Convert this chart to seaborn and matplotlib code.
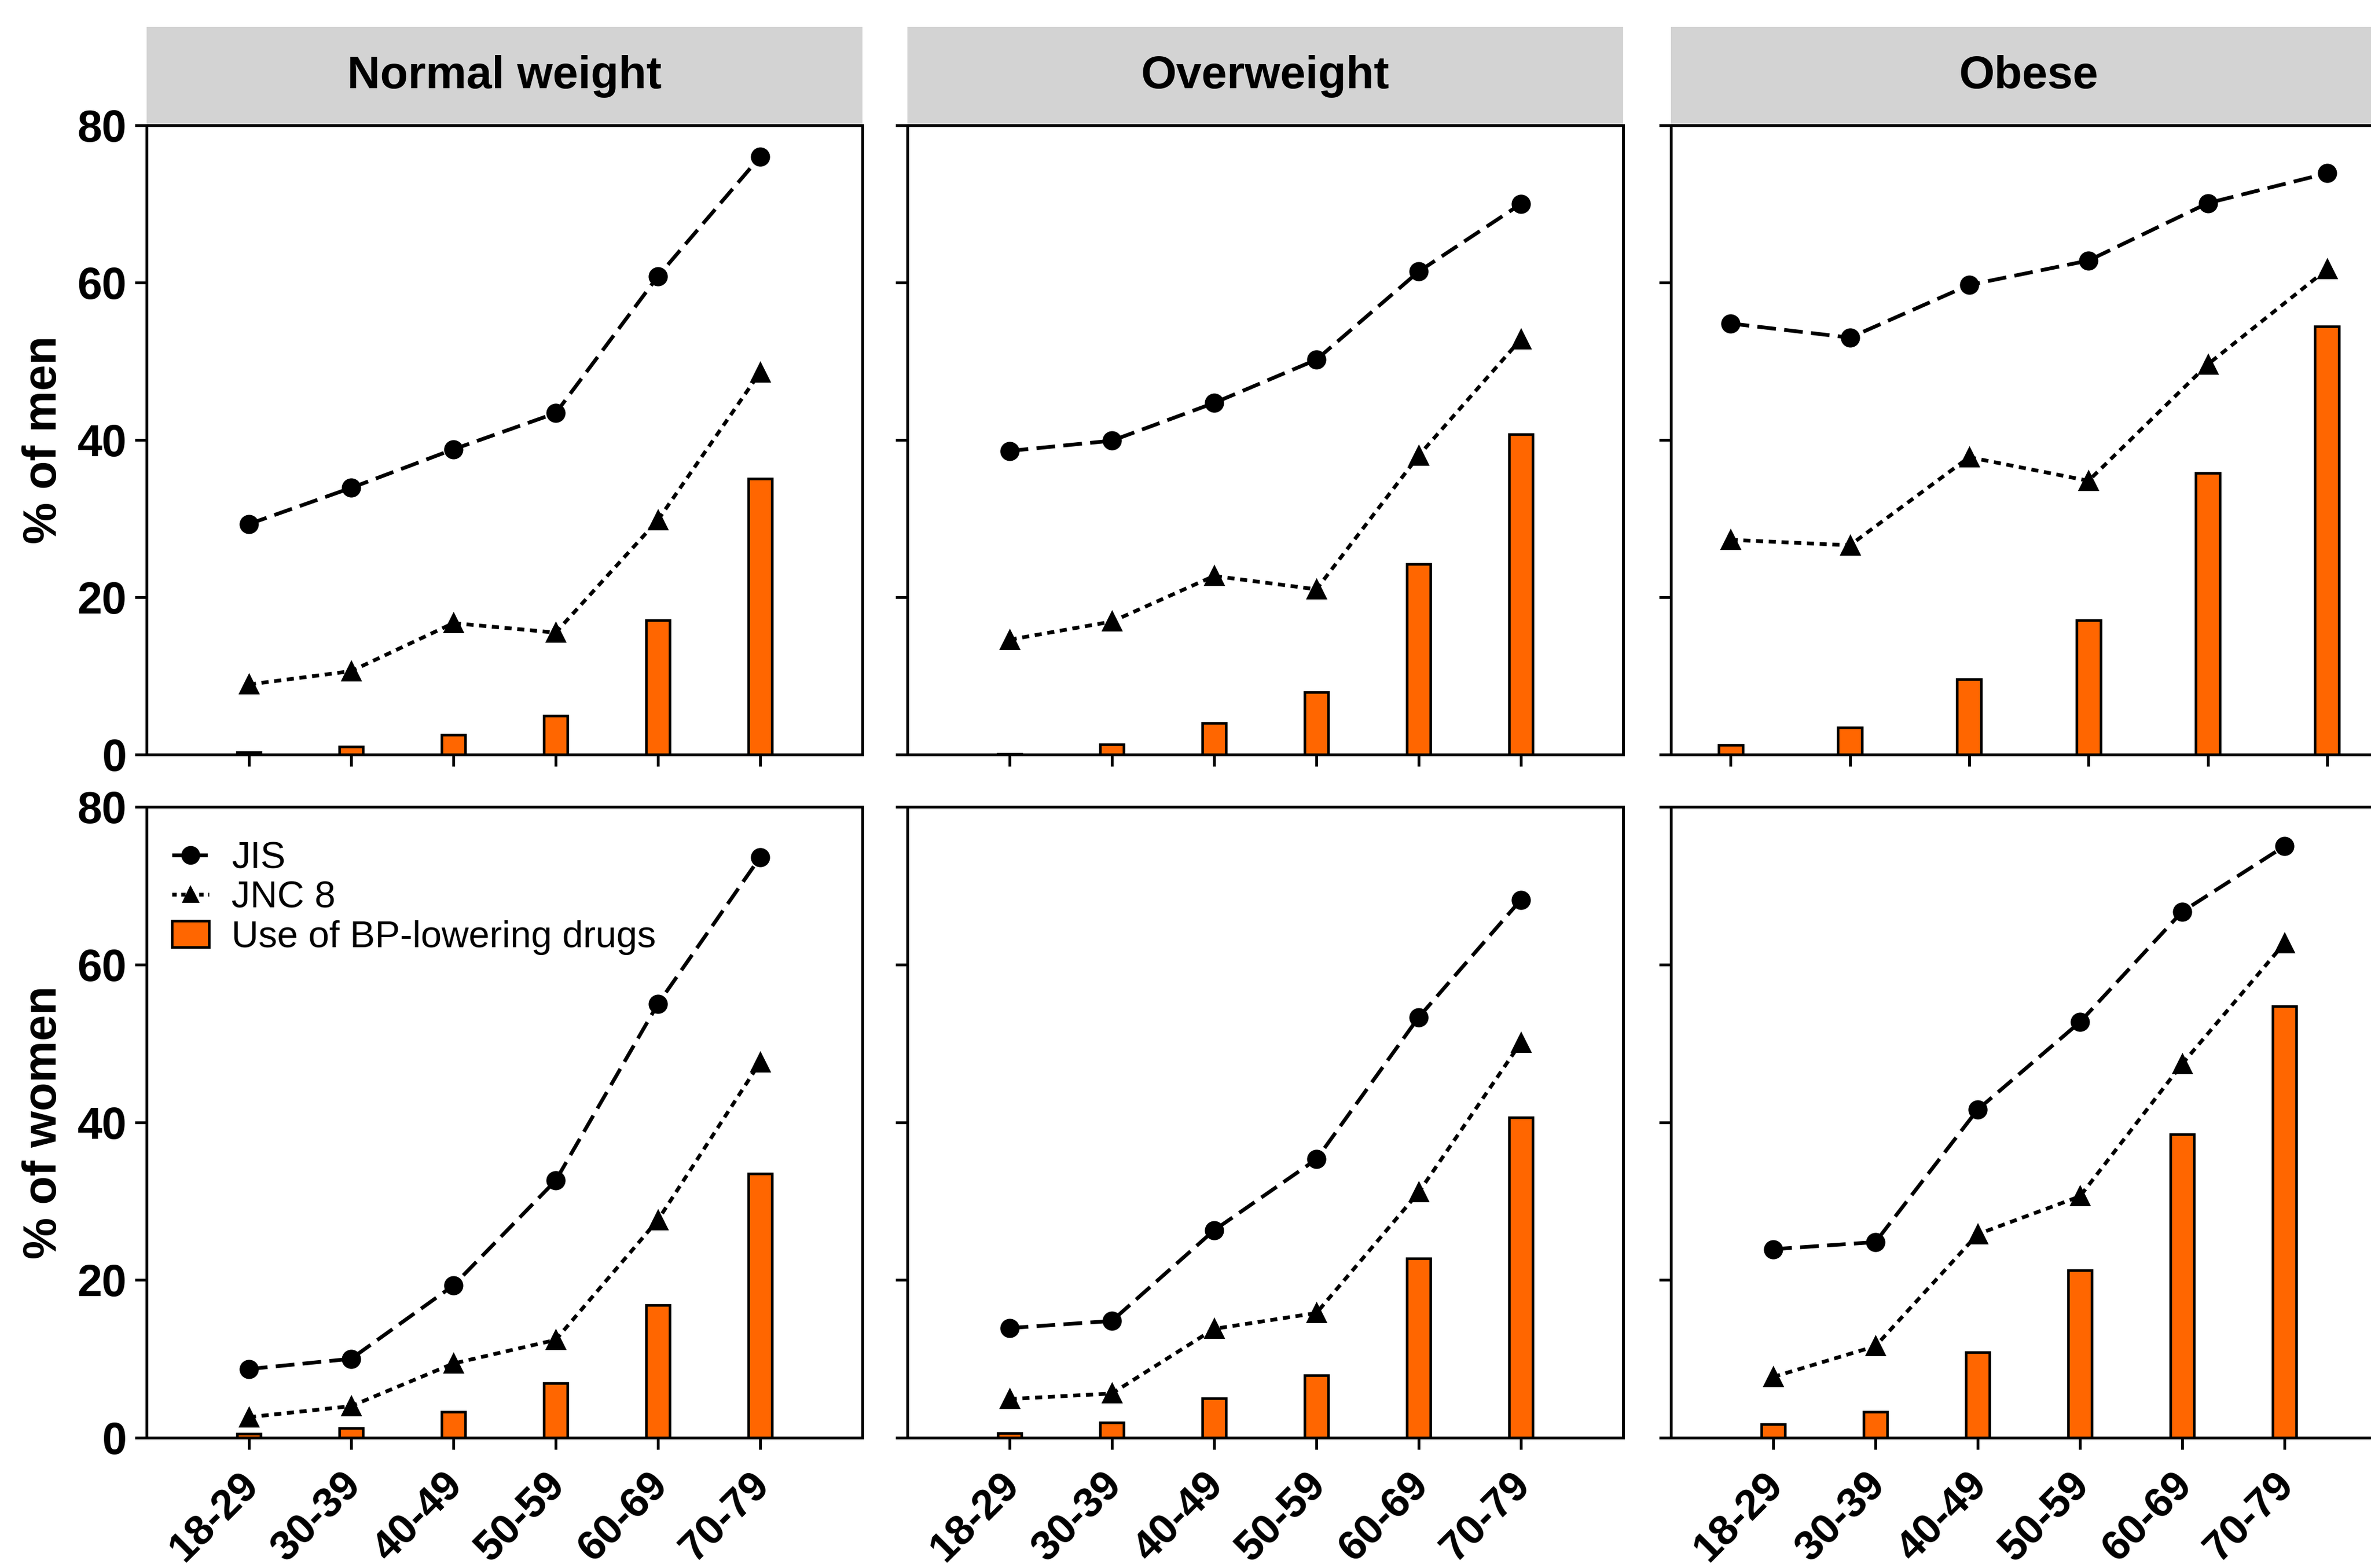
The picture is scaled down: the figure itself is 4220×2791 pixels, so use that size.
import matplotlib
matplotlib.use("Agg")
import matplotlib.pyplot as plt
import matplotlib.transforms as mtransforms
import numpy as np
import pandas as pd
import seaborn as sns
from matplotlib.patches import Rectangle, Patch
from matplotlib.lines import Line2D

# ---------------- data ----------------
ages = ["18-29", "30-39", "40-49", "50-59", "60-69", "70-79"]
groups = ["Normal weight", "Overweight", "Obese"]
sexes = ["men", "women"]
criteria = ["JIS", "JNC 8"]

men_normal_jis = [29.3, 33.9, 38.8, 43.4, 60.8, 76.0]
men_normal_jnc8 = [8.9, 10.6, 16.7, 15.5, 29.8, 48.6]
men_normal_drugs = [0.3, 1.0, 2.5, 4.9, 17.1, 35.1]

men_over_jis = [38.6, 39.9, 44.7, 50.2, 61.4, 70.0]
men_over_jnc8 = [14.6, 16.9, 22.7, 21.0, 38.0, 52.8]
men_over_drugs = [0.1, 1.3, 4.0, 7.9, 24.2, 40.7]

men_obese_jis = [54.8, 53.0, 59.7, 62.8, 70.1, 73.9]
men_obese_jnc8 = [27.3, 26.6, 37.8, 34.8, 49.6, 61.7]
men_obese_drugs = [1.2, 3.4, 9.6, 17.1, 35.8, 54.4]

women_normal_jis = [8.7, 10.0, 19.3, 32.6, 55.0, 73.6]
women_normal_jnc8 = [2.6, 4.0, 9.4, 12.4, 27.6, 47.6]
women_normal_drugs = [0.5, 1.2, 3.3, 6.9, 16.8, 33.5]

women_over_jis = [13.9, 14.8, 26.3, 35.3, 53.3, 68.2]
women_over_jnc8 = [4.9, 5.6, 13.8, 15.8, 31.1, 50.1]
women_over_drugs = [0.6, 1.9, 5.0, 7.9, 22.7, 40.6]

women_obese_jis = [23.9, 24.8, 41.6, 52.7, 66.7, 75.0]
women_obese_jnc8 = [7.7, 11.6, 25.8, 30.6, 47.4, 62.7]
women_obese_drugs = [1.7, 3.3, 10.8, 21.2, 38.5, 54.7]

ylabels = ["% of men", "% of women"]
yticks = [0, 20, 40, 60, 80]
legend_labels = ["JIS", "JNC 8", "Use of BP-lowering drugs"]

series = {
    ("men", "Normal weight"): (men_normal_jis, men_normal_jnc8, men_normal_drugs),
    ("men", "Overweight"): (men_over_jis, men_over_jnc8, men_over_drugs),
    ("men", "Obese"): (men_obese_jis, men_obese_jnc8, men_obese_drugs),
    ("women", "Normal weight"): (women_normal_jis, women_normal_jnc8, women_normal_drugs),
    ("women", "Overweight"): (women_over_jis, women_over_jnc8, women_over_drugs),
    ("women", "Obese"): (women_obese_jis, women_obese_jnc8, women_obese_drugs),
}

# ---------------- style ----------------
sns.set_style("ticks")
plt.rcParams["font.family"] = ["Liberation Sans", "DejaVu Sans"]
plt.rcParams["axes.linewidth"] = 1.2
for k in ["text.color", "axes.labelcolor", "xtick.color", "ytick.color",
          "axes.edgecolor"]:
    plt.rcParams[k] = "black"

W, H, DPI = 4220, 2791, 300
fig = plt.figure(figsize=(W / DPI, H / DPI), dpi=DPI)

col_left_px = [261, 1615, 2974]
ax_w_px = 1274
row_px = [(223, 1343), (1436, 2559)]   # (top, bottom) pixel rows
orange = "#FF6600"
box_h_px = 175
lw_line = 1.6

label_shift = mtransforms.ScaledTranslation(-4.5 / 72, 0, fig.dpi_scale_trans)

for r, sex in enumerate(sexes):
    top_px, bot_px = row_px[r]
    for c, grp in enumerate(groups):
        left = col_left_px[c] / W
        bottom = 1 - bot_px / H
        height = (bot_px - top_px) / H
        ax = fig.add_axes([left, bottom, ax_w_px / W, height])

        jis, jnc, drugs = series[(sex, grp)]
        special = (r == 0 and c == 2)
        bw = 0.203 if special else 0.236

        bar_df = pd.DataFrame({"age": ages, "value": drugs})
        sns.barplot(data=bar_df, x="age", y="value", order=ages, color=orange,
                    saturation=1, edgecolor="black", linewidth=1.1, width=bw,
                    errorbar=None, ax=ax)

        line_df = pd.DataFrame({
            "age": ages * 2,
            "value": list(jis) + list(jnc),
            "criterion": ["JIS"] * 6 + ["JNC 8"] * 6,
        })
        sns.pointplot(data=line_df, x="age", y="value", hue="criterion",
                      order=ages, hue_order=criteria,
                      palette={"JIS": "black", "JNC 8": "black"},
                      markers=["o", "^"], linestyles=["--", ":"],
                      errorbar=None, dodge=False, legend=False,
                      linewidth=lw_line, markersize=7, ax=ax)
        for ln in ax.lines:
            if ln.get_marker() == "o":
                ln.set_dashes([5.0, 2.2])
            elif ln.get_marker() == "^":
                ln.set_dashes([1.9, 1.5])
            ln.set_zorder(3)

        ax.set_ylim(0, 80)
        ax.set_yticks(yticks)
        if special:
            ax.set_xlim(-0.5, 5.5)
        else:
            ax.set_xlim(-1, 6)

        for s in ax.spines.values():
            s.set_visible(True)
            s.set_linewidth(1.2)
            s.set_color("black")
        ax.tick_params(axis="both", direction="out", length=5, width=1.2,
                       labelsize=19, top=False, right=False, color="black")
        ax.set_xlabel("")
        ax.set_ylabel("")

        if c == 0:
            for t in ax.get_yticklabels():
                t.set_fontweight("bold")
            ax.set_ylabel(ylabels[r], fontsize=20, fontweight="bold")
            ax.yaxis.set_label_coords(-0.113, 0.5)
        else:
            ax.tick_params(axis="y", labelleft=False)

        if r == 1:
            ax.set_xticks(range(len(ages)))
            ax.set_xticklabels(ages, rotation=45, ha="right",
                               rotation_mode="anchor", fontsize=18,
                               fontweight="bold")
            ax.tick_params(axis="x", pad=6.8)
            for t in ax.get_xticklabels():
                t.set_transform(t.get_transform() + label_shift)
        else:
            ax.tick_params(axis="x", labelbottom=False)

        if r == 0:
            bh = box_h_px / (bot_px - top_px)
            ax.add_patch(Rectangle((0, 1), 1, bh, transform=ax.transAxes,
                                   facecolor="#d3d3d3", edgecolor="none",
                                   clip_on=False, zorder=0))
            ax.text(0.5, 1 + bh / 2, grp, transform=ax.transAxes,
                    ha="center", va="center", fontsize=19.5,
                    fontweight="bold")

        if r == 1 and c == 0:
            handles = [
                Line2D([], [], color="black", marker="o", markersize=7,
                       linewidth=lw_line, linestyle=(0, (2.5, 1.0))),
                Line2D([], [], color="black", marker="^", markersize=6,
                       linewidth=lw_line, linestyle=(0, (1.2, 1.2))),
                Patch(facecolor=orange, edgecolor="black", linewidth=1.1),
            ]
            ax.legend(handles, legend_labels,
                      loc="upper left", bbox_to_anchor=(0.035, 0.945),
                      frameon=False, fontsize=16, handlelength=1.0,
                      handletextpad=0.6, labelspacing=0.12, borderaxespad=0,
                      borderpad=0)

fig.savefig("out.png", dpi=DPI)
